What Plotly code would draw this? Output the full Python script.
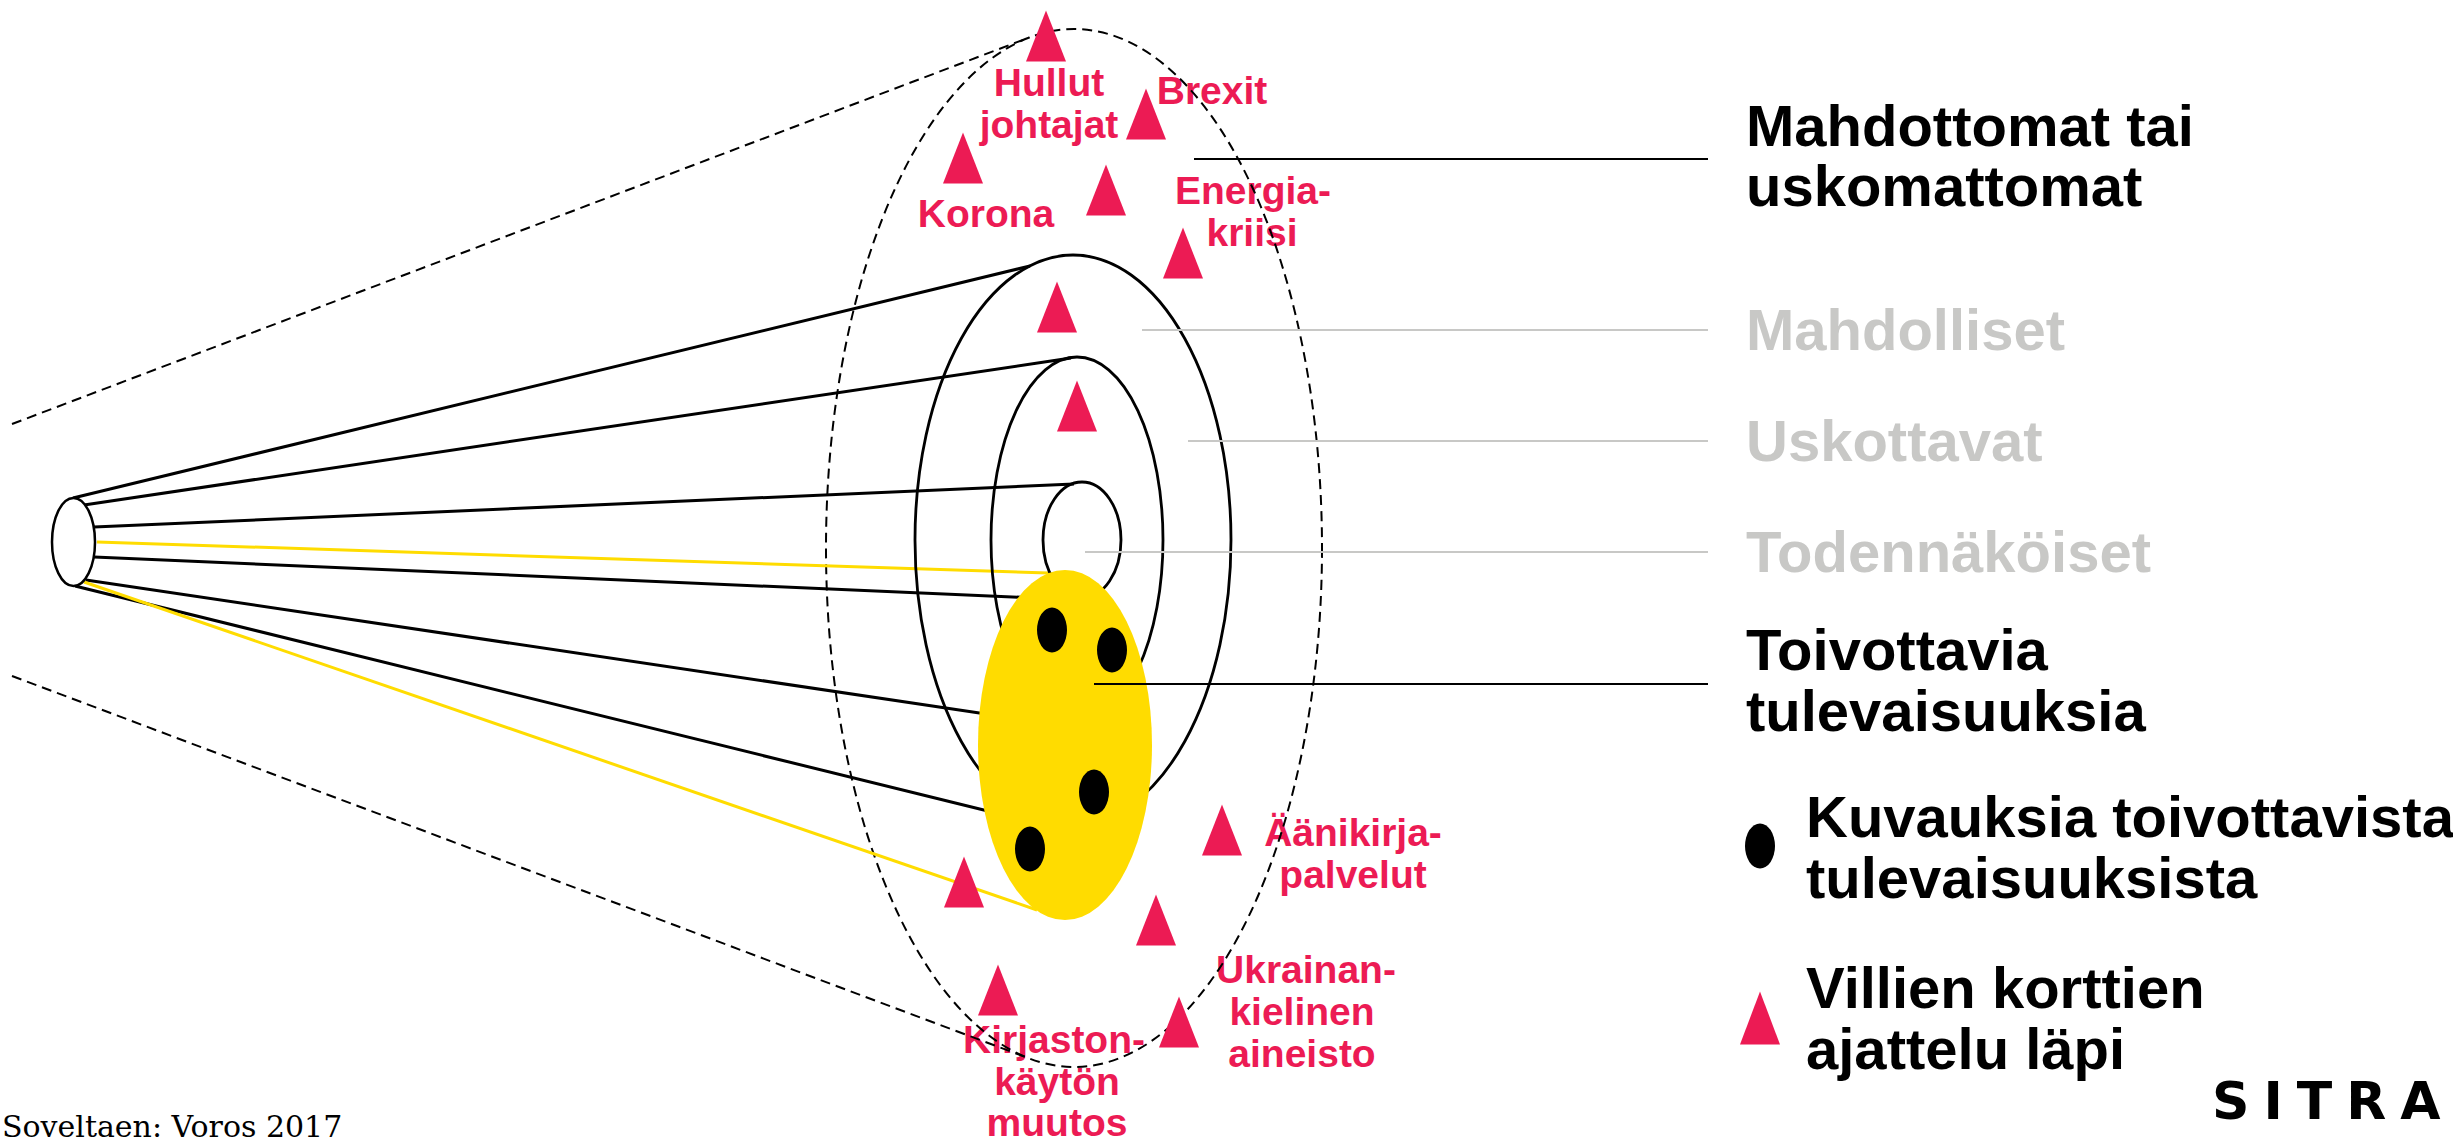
import math
import plotly.graph_objects as go

W, H = 2453, 1143
RED = "#EC1B54"
YELLOW = "#FFDC00"
GRAY = "#C8C8C6"

# ---------------- diagram data ----------------
# origin of the futures cone (the small ellipse on the left)
origin_ellipse = [73.5, 542, 21.5, 44]            # cx, cy, rx, ry

# concentric rings of the cone
ring_names = ["Mahdolliset", "Uskottavat", "Todennäköiset"]
ring_cx = [1073, 1077, 1082]
ring_cy = [540, 540, 540]
ring_rx = [158, 86, 39]
ring_ry = [285, 183, 58]

# outer dashed ring: impossible / unbelievable futures
dashed_ring = [1074, 548, 248, 519]
dashed_from_y = [424, 676]                         # left ends of the tangent lines
dashed_from_x = 12

# cone lines from the origin to the rings (start x, start y, end x, end y)
cone_black = [
    [73, 498, 1030, 266],
    [84, 505, 1071, 358],
    [94, 527, 1074, 484],
    [94, 557, 1060, 599],
    [86, 580, 1060, 725],
    [75, 586, 1000, 814],
]
cone_yellow = [
    [97, 542, 1048, 573],
    [84, 582, 1037, 910],
]

# preferred futures (yellow area) and descriptions of them (black dots)
preferred_area = [1065, 745, 87, 175]
dot_x = [1052, 1112, 1094, 1030]
dot_y = [630, 650, 792, 849]
dot_size = [30, 45]

# wild cards (red triangles)
wild_x = [1046, 1146, 963, 1106, 1183, 1057, 1077, 1222, 964, 1156, 998, 1179]
wild_y = [36, 114, 158, 190, 253, 307, 406, 830, 882, 920, 990, 1022]
tri_w, tri_h = 40, 51

# wild card labels (one entry per text line)
wild_lines = ["Hullut", "johtajat", "Brexit", "Korona", "Energia-", "kriisi",
              "Äänikirja-", "palvelut", "Ukrainan-", "kielinen", "aineisto",
              "Kirjaston-", "käytön", "muutos"]
wild_lx = [1049, 1049, 1212, 986, 1253, 1252, 1353, 1353, 1306, 1302, 1302, 1054, 1057, 1057]
wild_ly = [86, 128, 94, 217, 194, 236, 836, 878, 973, 1015, 1057, 1043, 1085, 1126]

# category labels on the right with their leader lines
cat_lines = ["Mahdottomat tai", "uskomattomat", "Mahdolliset", "Uskottavat",
             "Todennäköiset", "Toivottavia", "tulevaisuuksia"]
cat_y = [125, 185, 329, 440, 551, 649, 710]
cat_color = ["#000000", "#000000", GRAY, GRAY, GRAY, "#000000", "#000000"]
leader_y = [159, 330, 441, 552, 684]
leader_x0 = [1194, 1142, 1188, 1085, 1094]
leader_color = ["#000000", GRAY, GRAY, GRAY, "#000000"]
leader_x1 = 1708

# legend
legend_lines = ["Kuvauksia toivottavista", "tulevaisuuksista",
                "Villien korttien", "ajattelu läpi"]
legend_y = [816, 877, 987, 1048]
legend_dot = [1760, 846]
legend_tri = [1760, 1018]

source_text = "Soveltaen: Voros 2017"
logo_text = "SITRA"

# ---------------- drawing ----------------
shapes = []


def ellipse(cx, cy, rx, ry, line=None, fill=None):
    d = dict(type="circle", xref="x", yref="y", layer="above",
             x0=cx - rx, x1=cx + rx, y0=cy - ry, y1=cy + ry)
    d["line"] = line if line else dict(width=0)
    if fill:
        d["fillcolor"] = fill
    shapes.append(d)


def segment(x0, y0, x1, y1, color, width, dash=None):
    ln = dict(color=color, width=width)
    if dash:
        ln["dash"] = dash
    shapes.append(dict(type="line", xref="x", yref="y", layer="above",
                       x0=x0, y0=y0, x1=x1, y1=y1, line=ln))


def triangle(cx, cy, w, h):
    path = (f"M {cx} {cy - h / 2} L {cx + w / 2} {cy + h / 2} "
            f"L {cx - w / 2} {cy + h / 2} Z")
    shapes.append(dict(type="path", xref="x", yref="y", layer="above",
                       path=path, fillcolor=RED, line=dict(width=0)))


# dashed outer ring and its tangent lines from the left
dcx, dcy, drx, dry = dashed_ring
ellipse(dcx, dcy, drx, dry, line=dict(color="black", width=2, dash="10px,6px"))
for i, py in enumerate(dashed_from_y):
    u = (dashed_from_x - dcx) / drx
    v = (py - dcy) / dry
    r = math.hypot(u, v)
    base = math.atan2(v, u)
    delta = math.acos(1 / r)
    phi = base + delta if i == 0 else base - delta
    tx = dcx + drx * math.cos(phi)
    ty = dcy + dry * math.sin(phi)
    segment(dashed_from_x, py, tx, ty, "black", 2, "10px,6px")

# cone lines
for x0, y0, x1, y1 in cone_black:
    segment(x0, y0, x1, y1, "black", 3)
for x0, y0, x1, y1 in cone_yellow:
    segment(x0, y0, x1, y1, YELLOW, 3)

# origin ellipse
ox, oy, orx, ory = origin_ellipse
ellipse(ox, oy, orx, ory, line=dict(color="black", width=2.5), fill="white")

# rings
for cx, cy, rx, ry in zip(ring_cx, ring_cy, ring_rx, ring_ry):
    ellipse(cx, cy, rx, ry, line=dict(color="black", width=2.8))

# preferred futures area and its dots
pcx, pcy, prx, pry = preferred_area
ellipse(pcx, pcy, prx, pry, fill=YELLOW)
for x, y in zip(dot_x, dot_y):
    ellipse(x, y, dot_size[0] / 2, dot_size[1] / 2, fill="black")

# leader lines
for y, x0, c in zip(leader_y, leader_x0, leader_color):
    segment(x0, y, leader_x1, y, c, 2)

# wild card triangles
for x, y in zip(wild_x, wild_y):
    triangle(x, y, tri_w, tri_h)

# legend symbols
ellipse(legend_dot[0], legend_dot[1], dot_size[0] / 2, dot_size[1] / 2, fill="black")
triangle(legend_tri[0], legend_tri[1], tri_w, tri_h + 2)

fig = go.Figure()
fig.add_trace(go.Scatter(
    x=wild_lx, y=wild_ly, text=wild_lines, mode="text",
    textposition="middle center",
    textfont=dict(family="Liberation Sans", size=39, color=RED, weight="bold"),
    hoverinfo="skip", showlegend=False))

annotations = []
for t, y, c in zip(cat_lines, cat_y, cat_color):
    annotations.append(dict(x=1744, y=y, xref="x", yref="y", text=t,
                            showarrow=False, xanchor="left", yanchor="middle",
                            font=dict(family="Liberation Sans", size=58, color=c,
                                      weight="bold")))
for t, y in zip(legend_lines, legend_y):
    annotations.append(dict(x=1804, y=y, xref="x", yref="y", text=t,
                            showarrow=False, xanchor="left", yanchor="middle",
                            font=dict(family="Liberation Sans", size=58,
                                      color="black", weight="bold")))
annotations.append(dict(x=0, y=1126, xref="x", yref="y", text=source_text,
                        showarrow=False, xanchor="left", yanchor="middle",
                        font=dict(family="DejaVu Serif", size=30, color="black")))
annotations.append(dict(x=2210, y=1101, xref="x", yref="y",
                        text='<span style="letter-spacing:14px">' + logo_text[:-1]
                             + '</span>' + logo_text[-1],
                        showarrow=False, xanchor="left", yanchor="middle",
                        font=dict(family="DejaVu Sans", size=52, color="black",
                                  weight="bold")))

fig.update_layout(
    width=W, height=H, margin=dict(l=0, r=0, t=0, b=0, pad=0),
    paper_bgcolor="white", plot_bgcolor="white",
    xaxis=dict(range=[0, W], visible=False, fixedrange=True),
    yaxis=dict(range=[H, 0], visible=False, fixedrange=True),
    shapes=shapes, annotations=annotations, hovermode=False, showlegend=False,
)

fig.write_html("out.html", config=dict(displayModeBar=False, staticPlot=True),
               post_script="document.body.style.margin='0';")
